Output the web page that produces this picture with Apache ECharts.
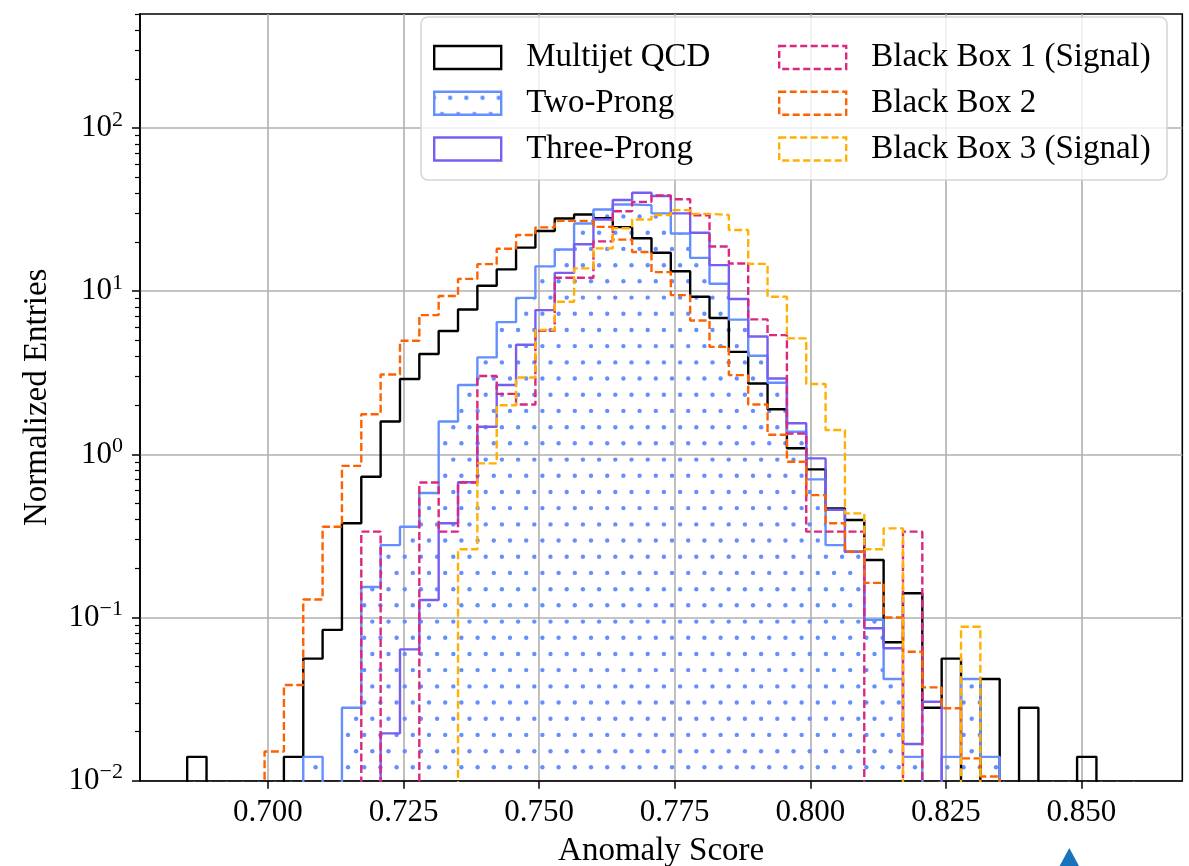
<!DOCTYPE html>
<html>
<head>
<meta charset="utf-8">
<script src="https://cdn.jsdelivr.net/npm/echarts@6/dist/echarts.min.js"></script>
<style>
html,body{margin:0;padding:0;background:#fff;}
#main{width:1189px;height:866px;}
</style>
</head>
<body>
<div id="main"></div>
<script>
// histogram binning (49 equal bins)
var binStart = 0.6851;
var binEnd = 0.8599;
var binCount = 49;

var xTicks = [0.700, 0.725, 0.750, 0.775, 0.800, 0.825, 0.850];
var yTicks = [0.01, 0.1, 1, 10, 100];

// normalized entries per bin
var qcd = [0.014, 0, 0, 0, 0, 0.014, 0.056, 0.084, 0.378, 0.729, 1.59, 2.9, 4.12, 5.7, 7.73, 10.8, 13.6, 18.5, 23.4, 27.9,
           29.5, 28.0, 24.7, 21.1, 17.2, 13.25, 9.24, 6.85, 4.25, 2.72, 1.89, 1.09, 0.809, 0.467, 0.396, 0.225, 0.0705, 0.141, 0.028, 0.056,
           0, 0.042, 0, 0.028, 0, 0, 0.014, 0, 0];
var twoProng = [0, 0, 0, 0, 0, 0, 0.014, 0, 0.028, 0.154, 0.278, 0.36, 0.58, 1.59, 2.66, 3.93, 6.46, 9.1, 14.2, 18.0,
                26.0, 31.7, 34.0, 33.7, 30.0, 22.6, 16.0, 11.1, 6.7, 4.02, 2.75, 1.375, 0.703, 0.278, 0.253, 0.097, 0.042, 0.014, 0, 0.014,
                0.042, 0.014, 0, 0, 0, 0, 0, 0, 0];
var threeProng = [0, 0, 0, 0, 0, 0, 0, 0, 0, 0, 0.0195, 0.0638, 0.128, 0.378, 0.675, 1.476, 2.66, 4.7, 7.66, 12.95,
                  19.4, 27.5, 36.2, 40.1, 38.3, 30.0, 22.8, 14.45, 8.95, 5.28, 2.92, 1.55, 0.945, 0.458, 0.253, 0.0859, 0.0648, 0.0168, 0.0305, 0,
                  0, 0, 0, 0, 0, 0, 0, 0, 0];
var blackBox1 = [0, 0, 0, 0, 0, 0, 0, 0, 0, 0.336, 0, 0, 0.672, 0.336, 0.672, 3.02, 2.35, 2.02, 5.71, 12.1,
                 12.1, 20.2, 30.9, 35.3, 38.6, 36.6, 29.2, 18.8, 14.8, 6.72, 5.38, 1.34, 0.336, 0.336, 0.336, 0, 0, 0.336, 0, 0,
                 0, 0, 0, 0, 0, 0, 0, 0, 0];
var blackBox2 = [0, 0, 0, 0, 0.0151, 0.0386, 0.129, 0.36, 0.85, 1.76, 3.09, 4.97, 7.14, 9.35, 11.9, 14.65, 18.2, 22.1, 24.6, 27.0,
                 27.0, 24.8, 20.7, 17.4, 13.1, 9.46, 6.62, 4.56, 3.06, 2.02, 1.32, 0.901, 0.563, 0.378, 0.253, 0.163, 0.1, 0.0617, 0.0373, 0.0278,
                 0.0137, 0.0106, 0, 0, 0, 0, 0, 0, 0];
var blackBox3 = [0, 0, 0, 0, 0, 0, 0, 0, 0, 0, 0, 0, 0, 0, 0.262, 0.881, 2.0, 2.96, 5.78, 8.61,
                 13.8, 18.3, 24.3, 27.5, 29.3, 31.4, 29.8, 29.3, 23.7, 14.7, 9.24, 5.14, 2.7, 1.41, 0.435, 0.262, 0.352, 0, 0, 0,
                 0.0878, 0, 0, 0, 0, 0, 0, 0, 0];

var serif = 'Liberation Serif';
var floorValue = 1e-3; // empty bins drop below the axis

var edges = [];
for (var i = 0; i <= binCount; i++) {
    edges.push(binStart + i * (binEnd - binStart) / binCount);
}

// outline of a step histogram, starting and ending on the floor
function stepData(values) {
    var pts = [[edges[0], floorValue]];
    values.forEach(function (v, i) {
        pts.push([edges[i], v > 0 ? v : floorValue]);
    });
    var last = values[values.length - 1];
    pts.push([edges[binCount], last > 0 ? last : floorValue]);
    pts.push([edges[binCount], floorValue]);
    return pts;
}

var minorTicks = [];
yTicks.forEach(function (d) {
    for (var m = 2; m <= 9; m++) {
        if (m * d <= 500) minorTicks.push(m * d);
    }
});

// dotted hatch for the two-prong fill
function dotPattern(color) {
    var c = document.createElement('canvas');
    c.width = 81;
    c.height = 162;
    var ctx = c.getContext('2d');
    ctx.fillStyle = color;
    for (var i = -1; i <= 5; i++) {
        for (var j = -1; j <= 5; j++) {
            ctx.beginPath();
            ctx.arc(7.8 + 16.2 * i, 22.1 + 32.4 * j, 2.2, 0, Math.PI * 2);
            ctx.fill();
            ctx.beginPath();
            ctx.arc(15.9 + 16.2 * i, 6.0 + 32.4 * j, 2.2, 0, Math.PI * 2);
            ctx.fill();
        }
    }
    return {image: c, repeat: 'repeat'};
}

var colors = {
    qcd: '#000000',
    two: '#648FFF',
    three: '#785EF0',
    bb1: '#DC267F',
    bb2: '#FE6100',
    bb3: '#FFB000'
};
var dash = [8, 3.5];
var dots = dotPattern(colors.two);

function histSeries(name, values, color, dashed, area) {
    var s = {
        type: 'line',
        name: name,
        data: stepData(values),
        step: 'end',
        symbol: 'none',
        showSymbol: false,
        clip: true,
        silent: true,
        animation: false,
        lineStyle: {color: color, width: 2.4, type: dashed ? dash : 'solid'},
        itemStyle: {color: color}
    };
    if (area) {
        s.areaStyle = {color: area, opacity: 1, origin: 'start'};
    }
    return s;
}

function legendItem(name, color, dashed, fill) {
    return {
        name: name,
        icon: 'rect',
        itemStyle: {
            color: fill || 'rgba(0,0,0,0)',
            borderColor: color,
            borderWidth: 2.4,
            borderType: dashed ? [7, 3.5] : 'solid'
        }
    };
}

var legendBase = {
    orient: 'vertical',
    top: 41,
    itemWidth: 67,
    itemHeight: 23,
    itemGap: 12.75,
    padding: 0,
    z: 60,
    selectedMode: false,
    textStyle: {fontFamily: serif, fontSize: 33, lineHeight: 33, color: '#000', padding: [0, 0, 0, 20]}
};

var myChart = echarts.init(document.getElementById('main'), null, {renderer: 'canvas'});

var option = {
    animation: false,
    backgroundColor: '#fff',
    textStyle: {fontFamily: serif},
    grid: {
        left: 140, right: 6.7, top: 14, bottom: 85.3,
        show: true, borderColor: '#000', borderWidth: 1.6,
        outerBoundsMode: 'none'
    },
    legend: [
        Object.assign({}, legendBase, {
            left: 433,
            data: [
                legendItem('Multijet QCD', colors.qcd, false),
                legendItem('Two-Prong', colors.two, false, dots),
                legendItem('Three-Prong', colors.three, false)
            ]
        }),
        Object.assign({}, legendBase, {
            left: 778,
            data: [
                legendItem('Black Box 1 (Signal)', colors.bb1, true),
                legendItem('Black Box 2', colors.bb2, true),
                legendItem('Black Box 3 (Signal)', colors.bb3, true)
            ]
        })
    ],
    xAxis: {
        type: 'value',
        min: 0.6764,
        max: 0.8686,
        name: 'Anomaly Score',
        nameLocation: 'middle',
        nameGap: 54,
        nameTextStyle: {fontFamily: serif, fontSize: 33, lineHeight: 33, color: '#000'},
        axisLine: {show: true, onZero: false, lineStyle: {color: '#000', width: 1.6}},
        axisTick: {show: true, customValues: xTicks, length: 8, lineStyle: {color: '#000', width: 1.5}},
        axisLabel: {
            customValues: xTicks,
            margin: 17,
            fontFamily: serif,
            fontSize: 31,
            lineHeight: 31,
            color: '#000',
            formatter: function (v) { return v.toFixed(3); }
        },
        splitLine: {show: true, lineStyle: {color: '#b0b0b0', width: 1.6}}
    },
    yAxis: [
        {
            type: 'log',
            logBase: 10,
            min: 0.01,
            max: 500,
            name: 'Normalized Entries',
            nameLocation: 'middle',
            nameGap: 86,
            nameRotate: 90,
            nameTextStyle: {fontFamily: serif, fontSize: 33, lineHeight: 33, color: '#000'},
            axisLine: {show: true, lineStyle: {color: '#000', width: 1.6}},
            axisTick: {show: true, customValues: yTicks, length: 8, lineStyle: {color: '#000', width: 1.5}},
            axisLabel: {
                customValues: yTicks,
                margin: 17,
                formatter: function (v) {
                    var e = Math.round(Math.log10(v));
                    return '{b|10}{s|' + (e < 0 ? '\u2212' + (-e) : e) + '}';
                },
                rich: {
                    b: {fontFamily: serif, fontSize: 31, color: '#000'},
                    s: {fontFamily: serif, fontSize: 22, color: '#000', padding: [0, 0, 16, 0]}
                }
            },
            splitLine: {show: true, lineStyle: {color: '#b0b0b0', width: 1.6}}
        },
        {
            type: 'log',
            logBase: 10,
            min: 0.01,
            max: 500,
            position: 'left',
            axisLine: {show: false},
            axisTick: {show: true, customValues: minorTicks, length: 5, lineStyle: {color: '#000', width: 1.2}},
            axisLabel: {show: false},
            splitLine: {show: false}
        }
    ],
    graphic: [
        {
            type: 'rect',
            z: 50,
            shape: {x: 421, y: 17, width: 746, height: 163, r: 7},
            style: {fill: 'rgba(255,255,255,0.8)', stroke: 'rgba(204,204,204,0.8)', lineWidth: 1.6}
        },
        {
            type: 'polygon',
            z: 50,
            shape: {points: [[1069.3, 848], [1079, 866], [1059.6, 866]]},
            style: {fill: '#1a72bb'}
        }
    ],
    series: [
        histSeries('Multijet QCD', qcd, colors.qcd, false),
        histSeries('Two-Prong', twoProng, colors.two, false, dots),
        histSeries('Three-Prong', threeProng, colors.three, false),
        histSeries('Black Box 1 (Signal)', blackBox1, colors.bb1, true),
        histSeries('Black Box 2', blackBox2, colors.bb2, true),
        histSeries('Black Box 3 (Signal)', blackBox3, colors.bb3, true)
    ]
};

myChart.setOption(option);
</script>
</body>
</html>
